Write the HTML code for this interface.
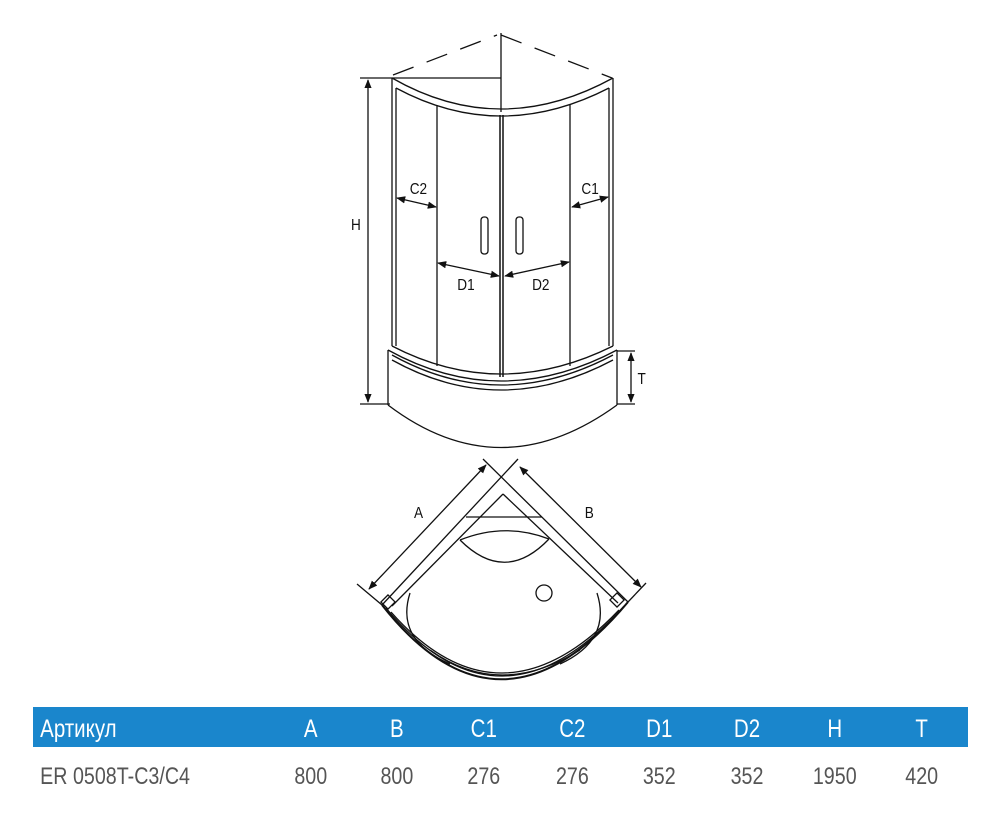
<!DOCTYPE html>
<html><head><meta charset="utf-8"><style>
html,body{margin:0;padding:0;background:#fff;}
svg{display:block;}
text{font-family:"Liberation Sans",sans-serif;}
</style></head><body>
<svg width="1000" height="833" viewBox="0 0 1000 833" xmlns="http://www.w3.org/2000/svg">
<defs>
<marker id="ar" viewBox="0 0 10 10" refX="9" refY="5" markerWidth="7" markerHeight="7" orient="auto-start-reverse"><path d="M0,1 L10,5 L0,9 Z" fill="#111"/></marker>
</defs>
<g fill="none" stroke="#111" stroke-width="1.3">
<path d="M393,75 L497,35 M501,35 L612,78" stroke-dasharray="22,14"/>
<line x1="501" y1="33" x2="501" y2="112"/>
<line x1="360" y1="78" x2="501" y2="78"/>
<line x1="360" y1="404" x2="390" y2="404"/>
<line x1="368" y1="80" x2="368" y2="402" marker-start="url(#ar)" marker-end="url(#ar)"/>
<line x1="392" y1="78" x2="392" y2="346"/>
<line x1="396" y1="88" x2="396" y2="346"/>
<line x1="613" y1="78" x2="613" y2="346"/>
<line x1="609" y1="88" x2="609" y2="346"/>
<path d="M392,78 Q500,140 613,78"/>
<path d="M396,88 Q500,144 609,88"/>
<line x1="500" y1="115" x2="500" y2="377" stroke-width="1.5"/>
<line x1="503" y1="115" x2="503" y2="377" stroke-width="1.5"/>
<line x1="437" y1="105" x2="437" y2="366"/>
<line x1="570" y1="105" x2="570" y2="366"/>
<path d="M392,346 Q500,402 613,346"/>
<path d="M388,350 Q500,412 617,350"/>
<path d="M392,355 Q500,415 613,355"/>
<path d="M392,360 Q500,420 613,360"/>
<line x1="388" y1="350" x2="388" y2="405"/>
<line x1="617" y1="350" x2="617" y2="405"/>
<path d="M388,405 Q500,490 617,405"/>
<line x1="617" y1="351" x2="635" y2="351"/>
<line x1="617" y1="404" x2="635" y2="404"/>
<line x1="631" y1="353" x2="631" y2="402" marker-start="url(#ar)" marker-end="url(#ar)"/>
<line x1="397" y1="198" x2="436" y2="207" marker-start="url(#ar)" marker-end="url(#ar)"/>
<line x1="572" y1="207" x2="608" y2="197" marker-start="url(#ar)" marker-end="url(#ar)"/>
<line x1="438" y1="263" x2="499" y2="276" marker-start="url(#ar)" marker-end="url(#ar)"/>
<line x1="505" y1="276" x2="569" y2="262" marker-start="url(#ar)" marker-end="url(#ar)"/>
<rect x="481" y="217" width="7" height="37" rx="3"/>
<rect x="516" y="217" width="7" height="37" rx="3"/>
<!-- bottom plan -->
<line x1="518" y1="459" x2="382" y2="605"/>
<line x1="483" y1="459" x2="628" y2="602"/>
<line x1="466" y1="517" x2="542" y2="517"/>
<path d="M460,540 Q505,522 549,539"/>
<path d="M460,540 Q505,585 549,539"/>
<circle cx="544" cy="593" r="8"/>
<line x1="503" y1="494" x2="392" y2="606"/>
<line x1="503" y1="494" x2="618" y2="603"/>
<path d="M410,593 Q395,640 450,664"/>
<path d="M597,593 Q612,640 560,664"/>
<path d="M382,605 Q500,755 628,602" stroke-width="2"/>
<path d="M386,608 Q500,745 624,606"/>
<path d="M391,612 Q500,735 619,610"/>
<path d="M430,650 Q500,700 580,650"/>
<rect x="383" y="597" width="10" height="10" transform="rotate(-45 388 602)"/>
<rect x="612" y="595" width="10" height="10" transform="rotate(45 617 600)"/>
<line x1="357" y1="584" x2="382" y2="605"/>
<line x1="646" y1="583" x2="628" y2="602"/>
<line x1="369" y1="589" x2="486" y2="465" marker-start="url(#ar)" marker-end="url(#ar)"/>
<line x1="520" y1="467" x2="641" y2="587" marker-start="url(#ar)" marker-end="url(#ar)"/>
</g>
<g font-size="16" fill="#111" transform="scale(0.85 1)">
<text x="413" y="230">H</text>
<text x="482" y="194">C2</text>
<text x="684" y="194">C1</text>
<text x="538" y="290">D1</text>
<text x="626" y="290">D2</text>
<text x="750" y="384">T</text>
<text x="487" y="518">A</text>
<text x="688" y="518">B</text>
</g>
<rect x="33" y="707" width="935" height="40" fill="#1a86cc"/>
<g font-size="25" fill="#fff" text-anchor="middle" transform="scale(0.82 1)">
<text x="49" y="737" text-anchor="start">Артикул</text>
<text x="379" y="737">A</text><text x="484" y="737">B</text><text x="590" y="737">C1</text><text x="698" y="737">C2</text>
<text x="804" y="737">D1</text><text x="911" y="737">D2</text><text x="1018" y="737">H</text><text x="1124" y="737">T</text>
</g>
<g font-size="24" fill="#555" text-anchor="middle" transform="scale(0.82 1)">
<text x="49" y="784" text-anchor="start">ER 0508T-C3/C4</text>
<text x="379" y="784">800</text><text x="484" y="784">800</text><text x="590" y="784">276</text><text x="698" y="784">276</text>
<text x="804" y="784">352</text><text x="911" y="784">352</text><text x="1018" y="784">1950</text><text x="1124" y="784">420</text>
</g>
</svg>
</body></html>
